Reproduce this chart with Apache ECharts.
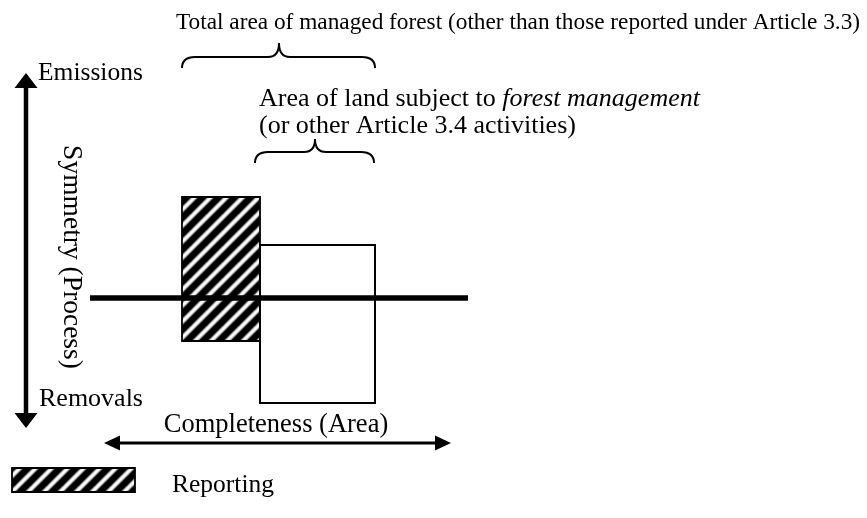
<!DOCTYPE html>
<html><head><meta charset="utf-8">
<script src="https://cdn.jsdelivr.net/npm/echarts@6/dist/echarts.min.js"></script>
<style>html,body{margin:0;padding:0;background:#fff}#c{width:867px;height:518px}</style>
</head><body><div id="c"></div>
<script>
// Diagram units: x = completeness (area) direction, y = symmetry (process): 0 = neutral line, + emissions, - removals
const xRange = [0, 867];
const yRange = [-220, 298];

// [x0, x1, top, bottom]
const reportingBoxes = [[182, 260, 101, -43]];
const managedBoxes = [[260, 375, 53, -105]];
const legendSwatch = [[12, 135, -170, -194]];
// neutral line
const neutralLine = [[90, 0], [468, 0]];
// arrows [x0, y0, x1, y1]
const symmetryArrow = [[26, 225, 26, -130]];
const completenessArrow = [[104, -145, 451, -145]];
// braces [x0, x1, yEnd, yFlat, xPeak, yPeak]
const braces = [[182, 375, 230, 241, 279, 255], [255, 374, 135, 146, 315, 159]];
// text labels
const labelTexts = [
  'Total area of managed forest (other than those reported under Article 3.3)',
  'Emissions',
  'Area of land subject to {i|forest management}',
  '(or other Article 3.4 activities)',
  'Symmetry (Process)',
  'Removals',
  'Completeness (Area)',
  'Reporting'
];
const labelAnchors = [[176, 275], [38, 225], [259, 199], [259, 172], [71, 41], [39, -101], [276, -127], [172, -187]];

const FONT = "'Liberation Serif', 'Times New Roman', serif";
const labelStyle = [
  {size: 23.3, align: 'left'},
  {size: 25.5, align: 'left'},
  {size: 26, align: 'left'},
  {size: 26, align: 'left'},
  {size: 27.5, align: 'center', rotate: -Math.PI / 2},
  {size: 26, align: 'left'},
  {size: 26.5, align: 'center'},
  {size: 25.5, align: 'left'}
];

function makeHatch(P) {
  const c = document.createElement('canvas');
  c.width = P; c.height = P;
  const g = c.getContext('2d');
  g.fillStyle = '#fff'; g.fillRect(0, 0, P, P);
  const layers = [[9.5, 0.2], [7.6, 0.45], [6.2, 0.8], [5, 1]];
  layers.forEach(([w, a]) => {
    g.strokeStyle = 'rgba(0,0,0,' + a + ')';
    g.lineWidth = w;
    for (let k = -1; k <= 1; k++) {
      g.beginPath();
      g.moveTo(k * P - 4, P + 4);
      g.lineTo(k * P + P + 4, -4);
      g.stroke();
    }
  });
  return c;
}
const hatch = makeHatch(16);

const chart = echarts.init(document.getElementById('c'), null, {renderer: 'canvas'});

function boxRender(fill, lw) {
  return function (params, api) {
    const a = api.coord([api.value(0), api.value(2)]);
    const b = api.coord([api.value(1), api.value(3)]);
    return {
      type: 'rect',
      shape: {x: a[0], y: a[1], width: b[0] - a[0], height: b[1] - a[1]},
      style: {fill: fill, stroke: '#000', lineWidth: lw}
    };
  };
}

function arrowRender(lw, headLen, headHalf) {
  return function (params, api) {
    const p0 = api.coord([api.value(0), api.value(1)]);
    const p1 = api.coord([api.value(2), api.value(3)]);
    const dx = p1[0] - p0[0], dy = p1[1] - p0[1];
    const L = Math.sqrt(dx * dx + dy * dy);
    const ux = dx / L, uy = dy / L, nx = -uy, ny = ux;
    const head = (tip, s) => {
      const bx = tip[0] - s * ux * headLen, by = tip[1] - s * uy * headLen;
      return {type: 'polygon', shape: {points: [tip, [bx + nx * headHalf, by + ny * headHalf], [bx - nx * headHalf, by - ny * headHalf]]},
        style: {fill: '#000'}};
    };
    return {
      type: 'group',
      children: [
        {type: 'line', shape: {x1: p0[0] + ux * (headLen - 1), y1: p0[1] + uy * (headLen - 1), x2: p1[0] - ux * (headLen - 1), y2: p1[1] - uy * (headLen - 1)},
          style: {stroke: '#000', lineWidth: lw}},
        head(p0, -1), head(p1, 1)
      ]
    };
  };
}

function braceRender(params, api) {
  const v = i => api.value(i);
  const x0 = v(0), x1 = v(1), yE = v(2), yF = v(3), xp = v(4), yP = v(5);
  const r = 13, m = 11;
  const P = (x, y) => api.coord([x, y]);
  const pts = [P(x0, yE), P(x0, yF), P(x0 + r, yF), P(xp - m, yF), P(xp, yF), P(xp, yP),
    P(xp, yF), P(xp + m, yF), P(x1 - r, yF), P(x1, yF), P(x1, yE)];
  const s = q => q[0].toFixed(2) + ' ' + q[1].toFixed(2);
  const d = 'M' + s(pts[0]) + ' Q' + s(pts[1]) + ' ' + s(pts[2]) + ' L' + s(pts[3]) +
    ' Q' + s(pts[4]) + ' ' + s(pts[5]) + ' Q' + s(pts[6]) + ' ' + s(pts[7]) +
    ' L' + s(pts[8]) + ' Q' + s(pts[9]) + ' ' + s(pts[10]);
  return {type: 'path', shape: {pathData: d}, style: {fill: null, stroke: '#000', lineWidth: 2}};
}

function textRender(params, api) {
  const i = params.dataIndex;
  const st = labelStyle[i];
  const p = api.coord([api.value(0), api.value(1)]);
  return {
    type: 'text',
    x: p[0], y: p[1],
    rotation: st.rotate || 0,
    style: {
      text: labelTexts[i],
      fill: '#000',
      font: st.size + 'px ' + FONT,
      fontFamily: FONT,
      fontSize: st.size,
      align: st.align,
      verticalAlign: 'middle',
      rich: {i: {fontStyle: 'italic', fontFamily: FONT, fontSize: st.size, fill: '#000'}}
    }
  };
}

const neutralSeg = [[neutralLine[0][0], neutralLine[0][1], neutralLine[1][0], neutralLine[1][1]]];

chart.setOption({
  animation: false,
  backgroundColor: '#fff',
  grid: {left: 0, right: 0, top: 0, bottom: 0},
  xAxis: {type: 'value', min: xRange[0], max: xRange[1], show: false},
  yAxis: {type: 'value', min: yRange[0], max: yRange[1], show: false},
  series: [
    {type: 'custom', clip: false, renderItem: boxRender({image: hatch, repeat: 'repeat'}, 1.8), data: reportingBoxes},
    {type: 'custom', clip: false, renderItem: boxRender('#fff', 2), data: managedBoxes},
    {type: 'custom', clip: false, renderItem: boxRender({image: hatch, repeat: 'repeat'}, 1.8), data: legendSwatch},
    {type: 'custom', clip: false, renderItem: function (params, api) {
      const a = api.coord([api.value(0), api.value(1)]);
      const b = api.coord([api.value(2), api.value(3)]);
      return {type: 'line', shape: {x1: a[0], y1: a[1], x2: b[0], y2: b[1]}, style: {stroke: '#000', lineWidth: 5.5}};
    }, data: neutralSeg},
    {type: 'custom', clip: false, renderItem: arrowRender(4.5, 15, 11.5), data: symmetryArrow},
    {type: 'custom', clip: false, renderItem: arrowRender(3, 16, 7.5), data: completenessArrow},
    {type: 'custom', clip: false, renderItem: braceRender, data: braces},
    {type: 'custom', clip: false, renderItem: textRender, data: labelAnchors}
  ]
});
</script>
</body></html>
